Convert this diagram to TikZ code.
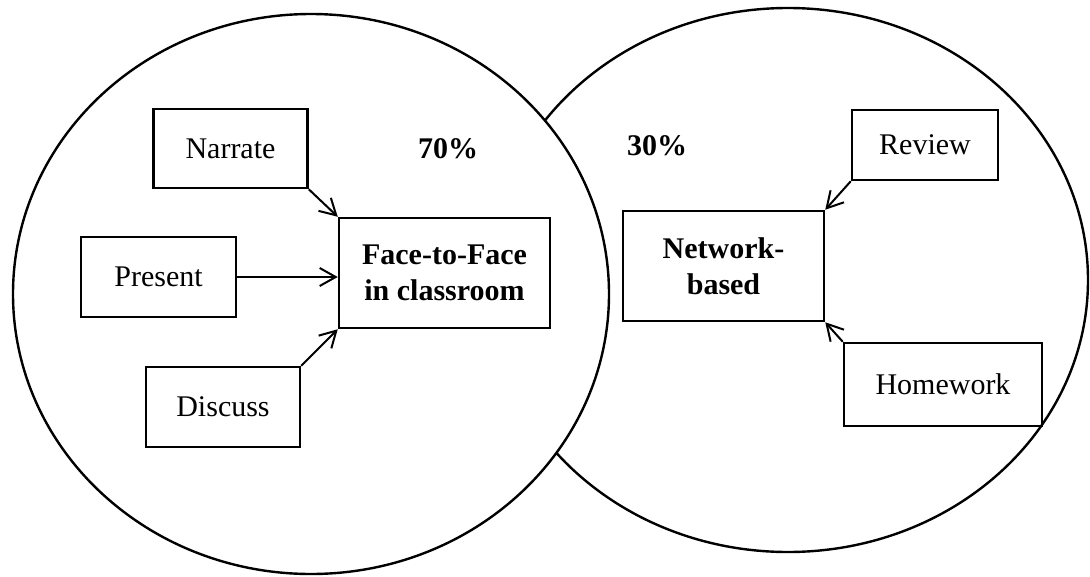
\documentclass[tikz,border=0pt]{standalone}
\usepackage{fontspec}
\setmainfont{Liberation Serif}
\usetikzlibrary{arrows.meta}

\tikzset{
  actbox/.style={draw, line width=2.5pt, inner sep=0pt, align=center,
    font=\fontsize{30}{36}\selectfont},
  mainbox/.style={actbox, font=\fontsize{30}{36}\selectfont\bfseries},
  share/.style={font=\fontsize{30}{36}\selectfont\bfseries},
  link/.style={line width=2pt, -{Straight Barb[length=16pt,width=18pt]}}
}

\begin{document}
\begin{tikzpicture}[x=1pt, y=-1pt]
    \useasboundingbox (0,0) rectangle (1090,576);

    % The two fields
    \draw[line width=2.4pt] (788,280) ellipse [x radius=300, y radius=272];
    \draw[line width=2.4pt, fill=white] (311,294) ellipse [x radius=298, y radius=280];

    % Shares
    \node[share] (left share) at (448,149) {70\%};
    \node[share] (right share) at (657,146) {30\%};

    % Centre boxes
    \node[mainbox, minimum width=211pt, minimum height=110pt] (face) at (444.5,273) {Face-to-Face\\in classroom};
    \node[mainbox, minimum width=201pt, minimum height=110pt] (network) at (723.5,266) {Network-\\based};

    % Activities in class
    \node[actbox, minimum width=154pt, minimum height=79pt] (narrate) at (230.5,148.5) {Narrate};
    \node[actbox, minimum width=155pt, minimum height=80pt] (present) at (158.5,277) {Present};
    \node[actbox, minimum width=154pt, minimum height=80pt] (discuss) at (223,407) {Discuss};

    % Activities on the network
    \node[actbox, minimum width=146pt, minimum height=70pt] (review) at (925,145) {Review};
    \node[actbox, minimum width=198pt, minimum height=83pt] (homework) at (943,384.5) {Homework};

    % Connections
    \draw[link] (narrate.south east) -- (face.north west);
    \draw[link] (present.east) -- (present.east -| face.west);
    \draw[link] (discuss.north east) -- (face.south west);
    \draw[link] (review.south west) -- (network.north east);
    \draw[link] (homework.north west) -- (network.south east);
\end{tikzpicture}
\end{document}
